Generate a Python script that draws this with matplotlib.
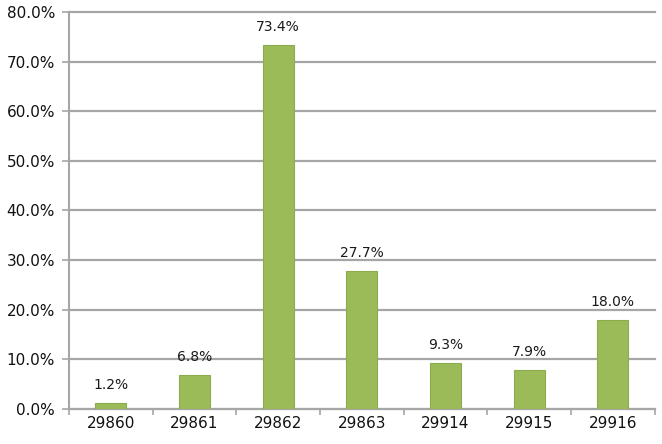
import matplotlib
matplotlib.use("Agg")
import matplotlib.pyplot as plt
from matplotlib.ticker import FuncFormatter, FixedLocator

# 데이터
categories = ["29860", "29861", "29862", "29863", "29914", "29915", "29916"]
values = [1.2, 6.8, 73.4, 27.7, 9.3, 7.9, 18.0]

BAR_COLOR = "#9BBB59"
EDGE_COLOR = "#8CAA4E"
GRID_COLOR = "#A6A6A6"

fig = plt.figure(figsize=(6.62, 4.44), dpi=100)
ax = fig.add_axes([0.104, 0.079, 0.885, 0.894])

x = range(len(categories))
bars = ax.bar(x, values, width=0.37, color=BAR_COLOR, edgecolor=EDGE_COLOR,
              linewidth=0.8, zorder=3)

for b, v in zip(bars, values):
    ax.annotate(f"{v:.1f}%", (b.get_x() + b.get_width() / 2, v),
                xytext=(0, 8), textcoords="offset points",
                ha="center", va="bottom", fontsize=10, color="#1a1a1a")

ax.set_xlim(-0.5, len(categories) - 0.5)
ax.set_ylim(0, 80)
ax.set_yticks(range(0, 81, 10))
ax.yaxis.set_major_formatter(FuncFormatter(lambda v, p: f"{v:.1f}%"))
ax.yaxis.grid(True, color=GRID_COLOR, linewidth=1.6, zorder=0)
ax.set_axisbelow(True)
for gl in ax.get_ygridlines():
    gl.set_clip_on(False)  # 80% 선이 잘리지 않게

# x축: 레이블은 가운데, 눈금은 경계에
ax.set_xticks(list(x))
ax.set_xticklabels(categories)
ax.xaxis.set_minor_locator(FixedLocator([i - 0.5 for i in range(len(categories) + 1)]))
ax.tick_params(axis="x", which="major", length=0, pad=5, labelsize=11, labelcolor="#111111")
ax.tick_params(axis="x", which="minor", length=4, color=GRID_COLOR, width=1.2, direction="out")
ax.tick_params(axis="y", length=5, color=GRID_COLOR, width=1.2, labelsize=11, pad=5,
               labelcolor="#111111")

for s in ["top", "right"]:
    ax.spines[s].set_visible(False)
for s in ["left", "bottom"]:
    ax.spines[s].set_color(GRID_COLOR)
    ax.spines[s].set_linewidth(1.5)

fig.savefig("out.png", dpi=100)
